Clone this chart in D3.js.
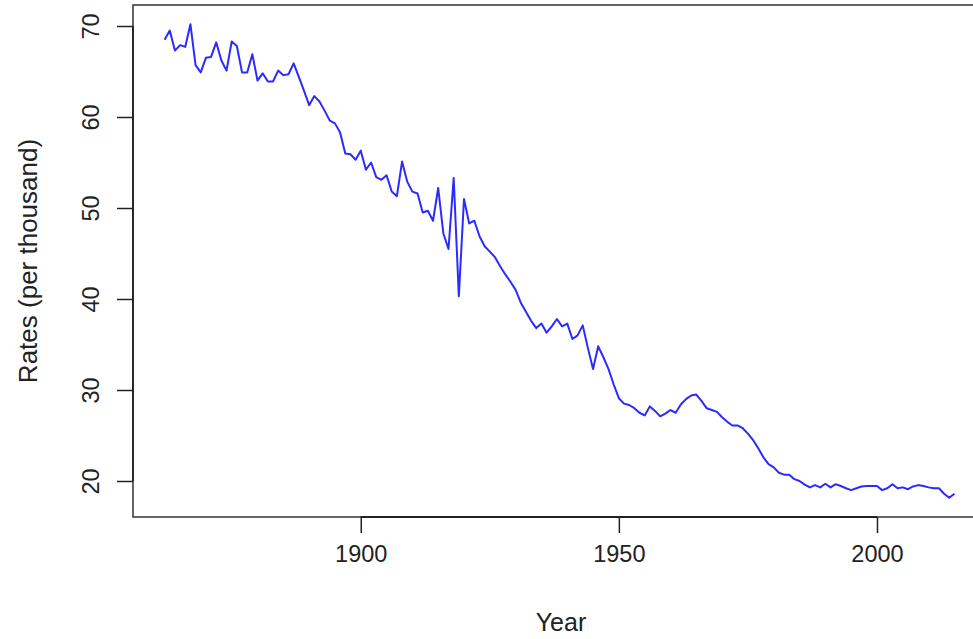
<!DOCTYPE html>
<html>
<head>
<meta charset="utf-8">
<script src="https://cdn.jsdelivr.net/npm/d3@7"></script>
<style>
  html, body { margin: 0; padding: 0; background: #fff; }
  svg { display: block; }
  text { font-family: "Liberation Sans", Arial, Helvetica, sans-serif; fill: #222; }
</style>
</head>
<body>
<svg id="chart" width="973" height="639"></svg>
<script>
// ---- data ----
const startYear = 1862;
const rates = [
  68.5, 69.5, 67.3, 67.9, 67.7, 70.2, 65.7, 64.9, 66.5, 66.6,   // 1862-1871
  68.2, 66.2, 65.1, 68.3, 67.8, 64.9, 64.9, 66.9, 64.0, 64.8,   // 1872-1881
  63.9, 63.9, 65.1, 64.6, 64.7, 65.9, 64.4, 62.9, 61.3, 62.3,   // 1882-1891
  61.7, 60.7, 59.6, 59.3, 58.3, 56.0, 55.9, 55.3,               // 1892-1899
  56.3, 54.2, 55.0, 53.4, 53.1, 53.6, 51.8, 51.3, 55.1, 52.9,   // 1900-1909
  51.8, 51.6, 49.5, 49.7, 48.6, 52.2, 47.2, 45.5, 53.3, 40.3,   // 1910-1919
  51.0, 48.3, 48.6, 46.9, 45.8, 45.2, 44.6, 43.6, 42.7, 41.9,   // 1920-1929
  41.0, 39.6, 38.6, 37.6, 36.8, 37.3, 36.3, 37.0, 37.8, 37.0,   // 1930-1939
  37.3, 35.6, 36.0, 37.1, 34.6, 32.3, 34.8, 33.6, 32.3, 30.6,   // 1940-1949
  29.1, 28.5, 28.35, 28.0, 27.5, 27.2, 28.2, 27.7, 27.1, 27.4,  // 1950-1959
  27.8, 27.5, 28.4, 29.0, 29.4, 29.5, 28.8, 28.0, 27.8, 27.6,   // 1960-1969
  27.0, 26.5, 26.1, 26.1, 25.8, 25.2, 24.5, 23.6, 22.6, 21.85,  // 1970-1979
  21.5, 20.9, 20.7, 20.7, 20.2, 20.0, 19.6, 19.3, 19.55, 19.3,  // 1980-1989
  19.7, 19.3, 19.65, 19.45, 19.2, 19.0, 19.2, 19.4, 19.45, 19.45, // 1990-1999
  19.45, 19.0, 19.2, 19.65, 19.2, 19.3, 19.1, 19.4, 19.55, 19.45, // 2000-2009
  19.3, 19.2, 19.2, 18.6, 18.15, 18.6                           // 2010-2015
];
const years = rates.map((_, i) => startYear + i);
const xTicks = [1900, 1950, 2000];
const yTicks = [20, 30, 40, 50, 60, 70];
const xTitle = "Year";
const yTitle = "Rates (per thousand)";

// ---- layout ----
const box = { left: 133, top: 5, right: 986, bottom: 517 };
const svg = d3.select("#chart");

// R-style scales: data range padded by 4% on each side
const xExt = d3.extent(years);
const xPad = (xExt[1] - xExt[0]) * 0.04;
const x = d3.scaleLinear().domain([xExt[0] - xPad, xExt[1] + xPad]).range([box.left, box.right]);
const y = d3.scaleLinear().domain([20, 70]).range([481, 26]);

// line
const line = d3.line().x((d, i) => x(years[i])).y(d => y(d));
svg.append("path")
  .datum(rates)
  .attr("d", line)
  .attr("fill", "none")
  .attr("stroke", "#2b2bff")
  .attr("stroke-width", 2)
  .attr("stroke-linejoin", "round");

// box
svg.append("rect")
  .attr("x", box.left).attr("y", box.top)
  .attr("width", box.right - box.left).attr("height", box.bottom - box.top)
  .attr("fill", "none").attr("stroke", "#333").attr("stroke-width", 1.5);

// x axis
const xAxis = d3.axisBottom(x).tickValues(xTicks).tickFormat(d3.format("d"))
  .tickSize(16).tickPadding(12);
const gx = svg.append("g").attr("transform", `translate(0,${box.bottom})`).call(xAxis);
gx.select(".domain").remove();
gx.append("line")
  .attr("x1", x(xTicks[0])).attr("x2", x(xTicks[xTicks.length - 1]))
  .attr("stroke", "#222").attr("stroke-width", 1.8);
gx.selectAll(".tick line").attr("stroke", "#222").attr("stroke-width", 1.5);
gx.selectAll(".tick text").attr("font-size", 23.5).attr("fill", "#222")
  .style("font-family", "'Liberation Sans', Arial, sans-serif");

// y axis
const yAxis = d3.axisLeft(y).tickValues(yTicks).tickSize(16).tickFormat(d3.format("d"));
const gy = svg.append("g").attr("transform", `translate(${box.left},0)`).call(yAxis);
gy.select(".domain").remove();
gy.append("line")
  .attr("y1", y(yTicks[0])).attr("y2", y(yTicks[yTicks.length - 1]))
  .attr("stroke", "#222").attr("stroke-width", 1.8);
gy.selectAll(".tick line").attr("stroke", "#222").attr("stroke-width", 1.5);
gy.selectAll(".tick text")
  .attr("font-size", 23.5).attr("fill", "#222")
  .style("font-family", "'Liberation Sans', Arial, sans-serif")
  .attr("x", null).attr("dy", null)
  .attr("text-anchor", "middle")
  .attr("transform", "translate(-34,0) rotate(-90)");

// axis titles
svg.append("text")
  .attr("x", (box.left + 973) / 2 + 8).attr("y", 631)
  .attr("text-anchor", "middle").attr("font-size", 25)
  .text(xTitle);
svg.append("text")
  .attr("transform", `translate(37,${(box.top + box.bottom) / 2}) rotate(-90)`)
  .attr("text-anchor", "middle").attr("font-size", 26)
  .text(yTitle);
</script>
</body>
</html>
